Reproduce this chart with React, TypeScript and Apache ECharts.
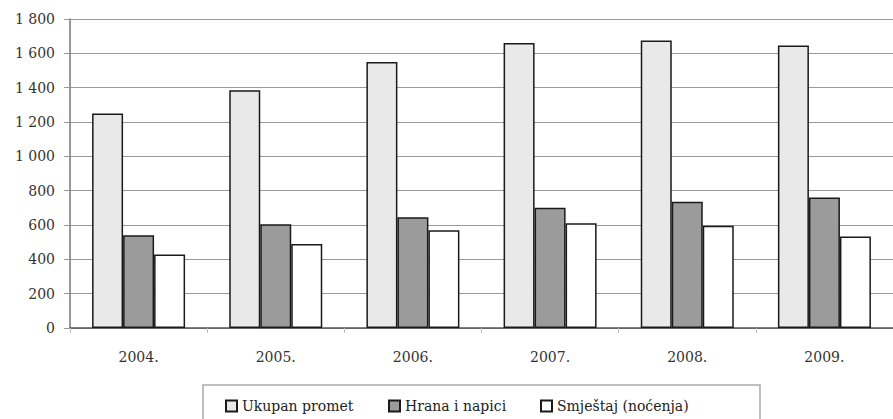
import React, { useEffect, useRef } from "react";
import * as echarts from "echarts";

const categories = ["2004.", "2005.", "2006.", "2007.", "2008.", "2009."];
const ukupanPromet = [1250, 1385, 1550, 1660, 1675, 1645];
const hranaINapici = [540, 605, 645, 700, 735, 760];
const smjestaj = [428, 490, 570, 610, 595, 533];
const seriesNames = ["Ukupan promet", "Hrana i napici", "Smještaj (noćenja)"];

const FONT = "DejaVu Serif";
const legendLefts = [225, 388, 540];

export default function App() {
  const ref = useRef<HTMLDivElement>(null);
  useEffect(() => {
    if (!ref.current) return;
    const chart = echarts.init(ref.current, undefined, { renderer: "svg" });
    const border = { borderColor: "#1a1a1a", borderWidth: 1.5 };
    chart.setOption({
      animation: false,
      backgroundColor: "#ffffff",
      textStyle: { fontFamily: FONT },
      grid: { left: 70, right: -7, top: 19, bottom: 91, containLabel: false },
      xAxis: {
        type: "category",
        data: categories,
        axisLine: { show: true, lineStyle: { color: "#555", width: 1.5 } },
        axisTick: { show: true, length: 5, lineStyle: { color: "#bbb" } },
        axisLabel: { color: "#333", fontSize: 14, fontFamily: FONT, margin: 22 },
        splitLine: { show: false },
      },
      yAxis: {
        type: "value",
        min: 0,
        max: 1800,
        interval: 200,
        axisLine: { show: true, lineStyle: { color: "#777", width: 1.5 } },
        axisTick: { show: true, length: 6, lineStyle: { color: "#999" } },
        axisLabel: {
          color: "#333",
          fontSize: 14,
          fontFamily: FONT,
          margin: 15,
          formatter: (v: number) => String(v).replace(/\B(?=(\d{3})+(?!\d))/g, " "),
        },
        splitLine: { show: true, lineStyle: { color: "#999999", width: 1.2 } },
      },
      legend: seriesNames.map((name, i) => ({
        data: [name],
        left: legendLefts[i],
        top: 399,
        padding: 0,
        itemWidth: 11,
        itemHeight: 11,
        icon: "rect",
        selectedMode: false,
        textStyle: { fontSize: 14, fontFamily: FONT, color: "#222" },
      })),
      graphic: [
        {
          type: "rect",
          shape: { x: 203, y: 385, width: 557, height: 60 },
          style: { fill: "none", stroke: "#aaaaaa", lineWidth: 1.5 },
          silent: true,
        },
      ],
      series: [
        {
          name: seriesNames[0],
          type: "bar",
          data: ukupanPromet,
          barWidth: 31,
          barGap: "0%",
          itemStyle: { color: "#e9e9e9", ...border },
        },
        {
          name: seriesNames[1],
          type: "bar",
          data: hranaINapici,
          barWidth: 31,
          barGap: "0%",
          itemStyle: { color: "#9b9b9b", ...border },
        },
        {
          name: seriesNames[2],
          type: "bar",
          data: smjestaj,
          barWidth: 31,
          barGap: "0%",
          itemStyle: { color: "#ffffff", ...border },
        },
      ],
    });
    return () => chart.dispose();
  }, []);
  return (
    <div
      ref={ref}
      style={{ position: "fixed", left: 0, top: 0, width: 893, height: 419, background: "#fff" }}
    />
  );
}
